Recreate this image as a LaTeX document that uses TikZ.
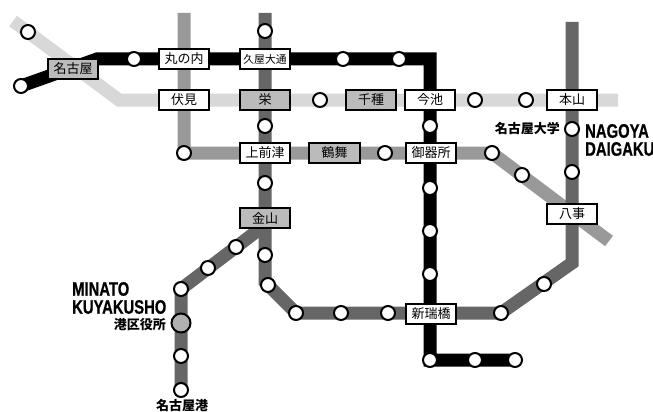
\documentclass[tikz,border=0pt]{standalone}
\usepackage{fontspec}
\setmainfont{Noto Sans CJK JP}
\newfontfamily\capfont[FakeStretch=0.76, BoldFeatures={FakeBold=0.6}]{Liberation Sans}
\usetikzlibrary{backgrounds}
\definecolor{lightline}{HTML}{D8D8D8}
\definecolor{midline}{HTML}{999999}
\definecolor{darkline}{HTML}{666666}
\definecolor{boxgray}{HTML}{BBBBBB}
\definecolor{hubgray}{HTML}{B0B0B0}
\tikzset{
  stopdot/.style={circle, draw, fill=white, line width=2pt, minimum size=14pt, inner sep=0pt},
  hubdot/.style={stopdot, fill=hubgray, minimum size=19pt},
  stabox/.style={draw, fill=white, line width=1.6pt, minimum width=50.5pt, minimum height=20.4pt, inner sep=0pt, font=\fontsize{13}{13}\selectfont},
  xstabox/.style={stabox, fill=boxgray},
  jptag/.style={inner sep=0pt, font=\fontsize{13}{13}\selectfont\bfseries},
  captag/.style={inner sep=0pt, align=left, font=\fontsize{19.5}{18}\capfont\bfseries},
  track/.style={line width=13pt, miter limit=10}
}

\begin{document}
\begin{tikzpicture}[x=1pt, y=-1pt]
\useasboundingbox (0,0) rectangle (653,412);

\node[xstabox] (nagoya) at (73,69) {名古屋};
\node[stabox] (marunouchi) at (184,59) {丸の内};
\node[stabox, font=\fontsize{10.8}{11}\selectfont] (hisaya) at (265,59) {久屋大通};
\node[stabox] (fushimi) at (184,100) {伏見};
\node[xstabox] (sakae) at (265,100) {栄};
\node[stabox] (kamimaezu) at (265,153) {上前津};
\node[xstabox] (tsurumai) at (334.5,153) {鶴舞};
\node[xstabox] (chikusa) at (371,100) {千種};
\node[stabox] (imaike) at (430,100) {今池};
\node[stabox] (motoyama) at (572,100) {本山};
\node[stabox] (gokiso) at (431,153) {御器所};
\node[xstabox] (kanayama) at (265,218) {金山};
\node[stabox] (aratama) at (431,314) {新瑞橋};
\node[stabox] (yagoto) at (572,214) {八事};

\node[stopdot] (h1) at (28,32) {};
\node[stopdot] (h2) at (320,100) {};
\node[stopdot] (h3) at (475,100) {};
\node[stopdot] (h4) at (526,100) {};

\node[stopdot] (s1) at (21,86) {};
\node[stopdot] (s2) at (134,59) {};
\node[stopdot] (s3) at (343,59) {};
\node[stopdot] (s4) at (399,59) {};
\node[stopdot] (s5) at (430,126) {};
\node[stopdot] (s6) at (430,188) {};
\node[stopdot] (s7) at (430,231) {};
\node[stopdot] (s8) at (430,274) {};
\node[stopdot] (s9) at (430,360) {};
\node[stopdot] (s10) at (475,360) {};
\node[stopdot] (s11) at (515,360) {};

\node[stopdot] (t1) at (184,153) {};
\node[stopdot] (t2) at (385,153) {};
\node[stopdot] (t3) at (492,153) {};
\node[stopdot] (t4) at (522,175) {};

\node[stopdot] (m1) at (265,31) {};
\node[stopdot] (m2) at (265,126) {};
\node[stopdot] (m3) at (265,183) {};
\node[stopdot] (m4) at (265,255) {};
\node[stopdot] (m5) at (268,285) {};
\node[stopdot] (m6) at (296,313) {};
\node[stopdot] (m7) at (341,313) {};
\node[stopdot] (m8) at (388,313) {};
\node[stopdot] (m9) at (501,313) {};
\node[stopdot] (m10) at (544,284) {};
\node[stopdot] (m11) at (572,172) {};
\node[stopdot] (m12) at (572,129) {};

\node[stopdot] (k1) at (236,247) {};
\node[stopdot] (k2) at (208,268) {};
\node[stopdot] (k3) at (181,289) {};
\node[hubdot] (k4) at (181,323) {};
\node[stopdot] (k5) at (181,356) {};
\node[stopdot] (k6) at (181,390) {};

\coordinate (hstart) at (13,21);
\coordinate (hbend) at (119,100);
\coordinate (hend) at (618,100);
\coordinate (sbend) at (97,59);
\coordinate (scorner) at (430,59);
\coordinate (ttop) at (184,13);
\coordinate (tend) at (609,241);
\coordinate (mtop) at (265,13);
\coordinate (mbend) at (265,282);
\coordinate (mcorner) at (572,263);
\coordinate (mend) at (572,22);
\coordinate (kstart) at (265,225);

\begin{scope}[on background layer]
\draw [track, lightline](hstart) -- (hbend) -- (hend);
\draw [track, midline](ttop) -- (t1.center) -- (t3.center) -- (tend);
\draw [track, darkline](mtop) -- (mbend) -- (m6.center) -- (m9.center) -- (mcorner) -- (mend);
\draw [track, darkline](kstart) -- (k3.center) -- (k6.center);
\draw [track, black](s1.center) -- (sbend) -- (scorner) -- (s9.center) -- (s11.center);
\end{scope}

\node[jptag, anchor=east] (l1) at (560,129) {名古屋大学};
\node[captag, anchor=west] (l2) at (585,140) {NAGOYA\\DAIGAKU};
\node[captag, anchor=west] (l3) at (72,298) {MINATO\\KUYAKUSHO};
\node[jptag, anchor=east] (l4) at (166,325) {港区役所};
\node[jptag] (l5) at (182,406) {名古屋港};

\end{tikzpicture}
\end{document}
